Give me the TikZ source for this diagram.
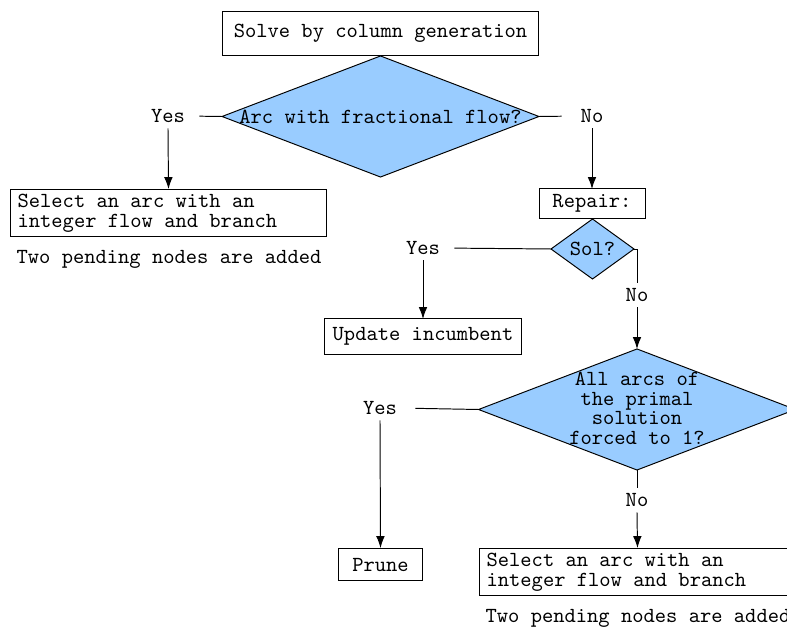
\documentclass[tikz,border=0pt]{standalone}
\usetikzlibrary{shapes.geometric,arrows.meta}
\definecolor{dblue}{RGB}{153,204,255}
\newcommand\mytta{\ttfamily\fontsize{10}{9.3}\selectfont}
\newcommand\myttb{\ttfamily\fontsize{10}{9.1}\selectfont}
\tikzset{
  box/.style={draw, rectangle, inner sep=0pt, outer sep=0pt, font=\ttfamily},
  mbox/.style={draw, rectangle, inner xsep=3.5pt, inner ysep=0pt, outer sep=0pt,
     text width=140.4pt, align=flush left, font={\mytta}},
  dia/.style={draw, diamond, fill=dblue, inner sep=0pt, outer sep=0pt},
  dtext/.style={inner sep=0pt, align=flush center, font={\myttb}},
  lbl/.style={inner xsep=0pt, inner ysep=2.5pt, font=\ttfamily},
  arr/.style={-{Latex[length=5.5pt,width=4pt]}},
}
\begin{document}
\begin{tikzpicture}[x=0.4651pt,y=-0.4651pt, line width=0.45pt]
\clip (0,0) rectangle (787,628);
% top box
\node[box, minimum width=147.4pt, minimum height=20.9pt] (solve) at (380.5,33.5) {Solve by column generation};
% diamond 1
\node[dia, minimum width=147.4pt, minimum height=56.3pt] (d1) at (380.5,116.5) {};
\node[dtext] (d1t) at (d1.center) {Arc with fractional flow?};
\node[lbl] (y1) at (168,116) {Yes};
\node[lbl] (n1) at (592,116) {No};
\draw[shorten >=6.5pt] (d1.west) -- (y1.east);
\draw[shorten >=8.7pt] (d1.east) -- (n1.west);
% left branch
\node[mbox, minimum height=22.3pt] (sel1) at (168.5,213) {Select an arc with an\\integer flow and branch};
\node[lbl, inner sep=0pt] (pend1) at (169,259) {Two pending nodes are added};
\draw[arr] (y1.south) -- (sel1.north);
% repair
\node[box, minimum width=49.3pt, minimum height=13.5pt] (rep) at (592,203.5) {Repair:};
\draw[arr] (n1.south) -- (rep.north);
\node[dia, minimum width=38.6pt, minimum height=27.9pt] (sol) at (592.5,249) {};
\node[dtext] (solt) at (sol.center) {Sol?};
\node[lbl] (y2) at (423,248) {Yes};
\draw[shorten >=6.5pt] (sol.west) -- (y2.east);
\node[box, minimum width=91.2pt, minimum height=16.3pt] (upd) at (423,336.5) {Update incumbent};
\draw[arr] (y2.south) -- (upd.north);
\node[lbl] (n2) at (637,295) {No};
\draw (sol.east) -| (n2.north);
% diamond 2
\node[dia, minimum width=147.4pt, minimum height=56.3pt] (d2) at (637,409.5) {};
\node[dtext] (d2t) at (637,408.5) {All arcs of\\the primal\\solution\\forced to 1?};
\draw[arr] (n2.south) -- (d2.north);
\node[lbl] (y3) at (380,408) {Yes};
\draw[shorten >=8.4pt] (d2.west) -- (y3.east);
\node[box, minimum width=39.5pt, minimum height=15.3pt] (prune) at (380.5,564.5) {Prune};
\draw[arr] (y3.south) -- (prune.north);
\node[lbl] (n3) at (637,500) {No};
\draw (d2.south) -- (n3.north);
\node[mbox, minimum height=22.3pt] (sel2) at (637.5,572) {Select an arc with an\\integer flow and branch};
\draw[arr] (n3.south) -- (sel2.north);
\node[lbl, inner sep=0pt] (pend2) at (638,618) {Two pending nodes are added};
\end{tikzpicture}
\end{document}
